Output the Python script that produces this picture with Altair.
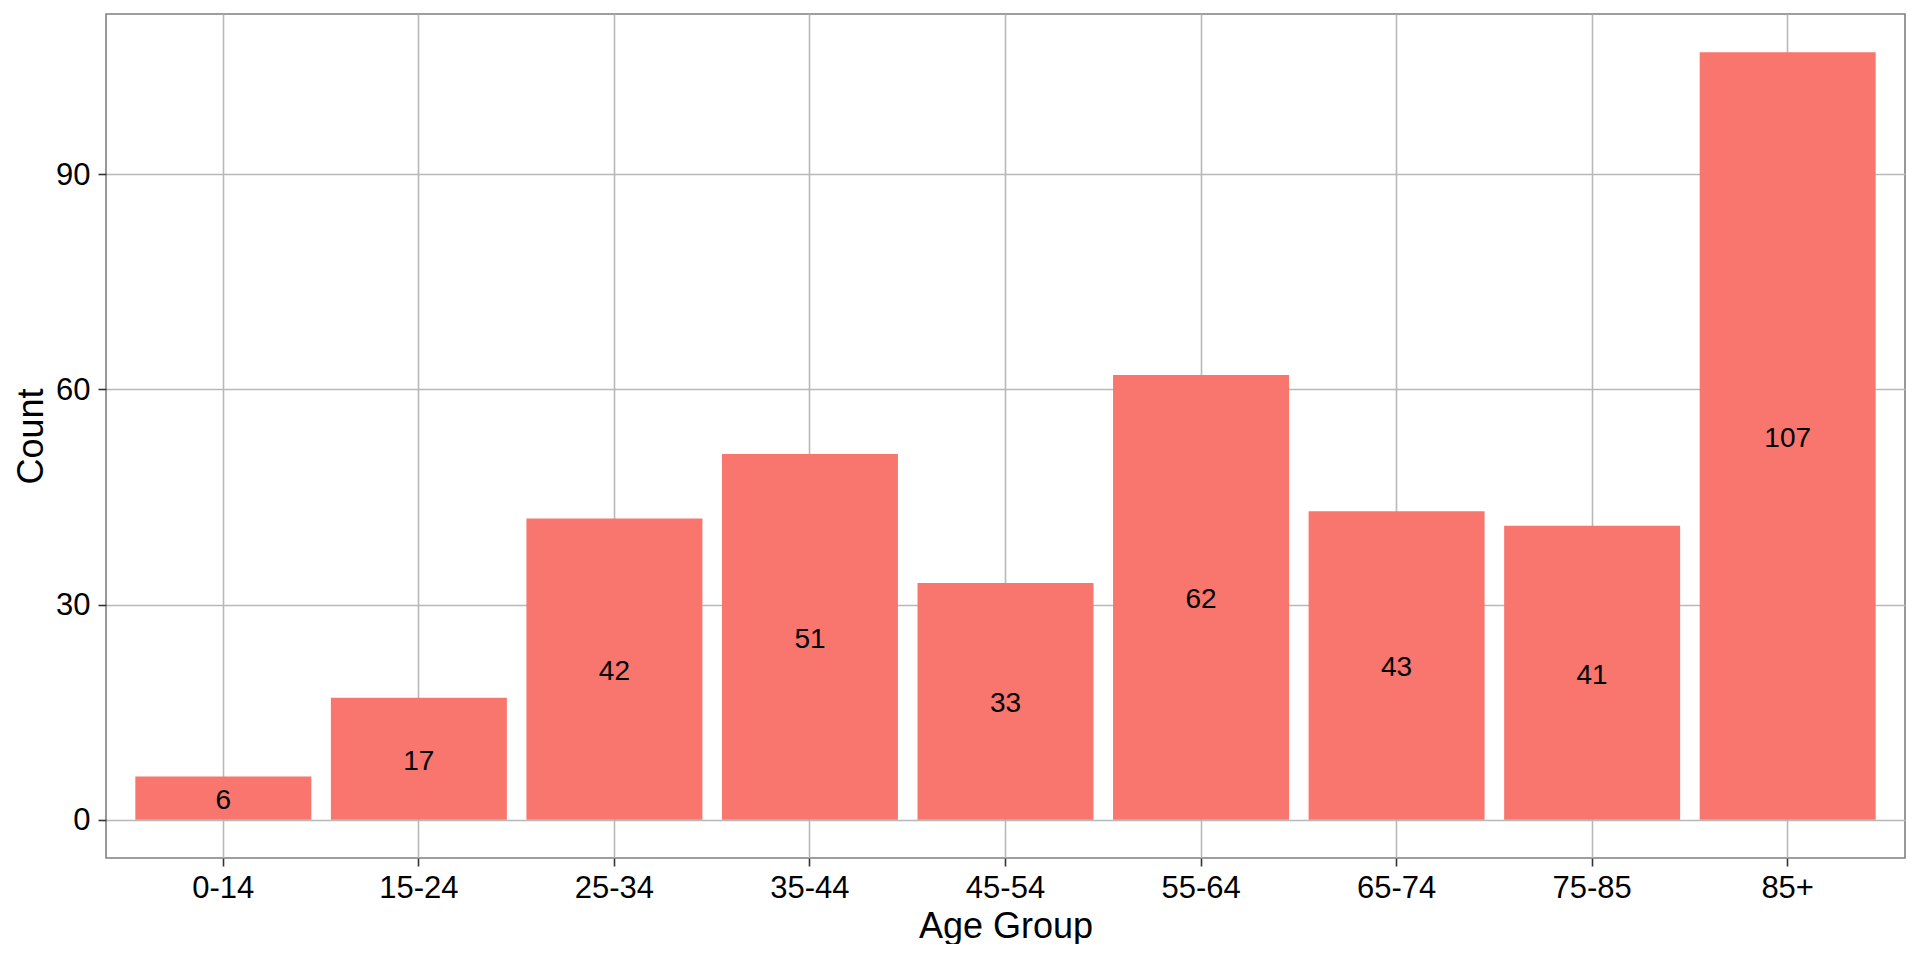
import altair as alt
import pandas as pd

age_groups = ["0-14", "15-24", "25-34", "35-44", "45-54", "55-64", "65-74", "75-85", "85+"]
counts = [6, 17, 42, 51, 33, 62, 43, 41, 107]
y_ticks = [0, 30, 60, 90]

df = pd.DataFrame({"Age Group": age_groups, "Count": counts})

FONT = "Liberation Sans"
W, H = 1799, 844

x_enc = alt.X(
    "Age Group:N",
    sort=age_groups,
    scale=alt.Scale(paddingInner=0.1, paddingOuter=0.15),
    axis=alt.Axis(
        title="Age Group",
        labelAngle=0,
        domain=False,
        bandPosition=0.5,
        grid=True,
        gridColor="#B8B8B8",
        gridWidth=1.6,
        tickColor="#333333",
        tickSize=8,
        tickWidth=1.6,
        labelFont=FONT,
        labelFontSize=31,
        labelColor="#000000",
        labelBaseline="alphabetic",
        labelPadding=31,
        titleFont=FONT,
        titleFontSize=36,
        titleFontWeight="normal",
        titleColor="#000000",
        titleBaseline="alphabetic",
        titleY=79,
        titleX=W / 2,
    ),
)

y_scale = alt.Scale(domain=[-5.35, 112.35], nice=False, zero=False)

bars = alt.Chart(df).mark_bar(color="#F8766D").encode(
    x=x_enc,
    y=alt.Y(
        "Count:Q",
        scale=y_scale,
        axis=alt.Axis(
            title="Count",
            values=y_ticks,
            domain=False,
            grid=True,
            gridColor="#B8B8B8",
            gridWidth=1.6,
            tickColor="#333333",
            tickSize=8,
            tickWidth=1.6,
            labelFont=FONT,
            labelFontSize=31,
            labelColor="#000000",
            labelPadding=8,
            labelOffset=1,
            titleFont=FONT,
            titleFontSize=36,
            titleFontWeight="normal",
            titleColor="#000000",
            titleAngle=270,
            titleBaseline="alphabetic",
            titleAlign="center",
            titleX=-64,
            titleY=H / 2,
        ),
    ),
    y2=alt.datum(0),
)

labels = alt.Chart(df).transform_calculate(
    mid="datum.Count / 2"
).mark_text(font=FONT, fontSize=28, color="#000000", baseline="middle", align="center", dy=3).encode(
    x=alt.X("Age Group:N", sort=age_groups),
    y=alt.Y("mid:Q", scale=y_scale),
    text=alt.Text("Count:Q"),
)

chart = (
    alt.layer(bars, labels)
    .properties(
        width=W,
        height=H,
        autosize=alt.AutoSizeParams(type="none"),
        padding={"left": 98, "top": 6, "right": 7, "bottom": 86},
        background="#FFFFFF",
    )
    .configure_view(stroke="#7F7F7F", strokeWidth=1.6)
)

chart.save("out.html", embed_options={"renderer": "svg", "actions": False})
